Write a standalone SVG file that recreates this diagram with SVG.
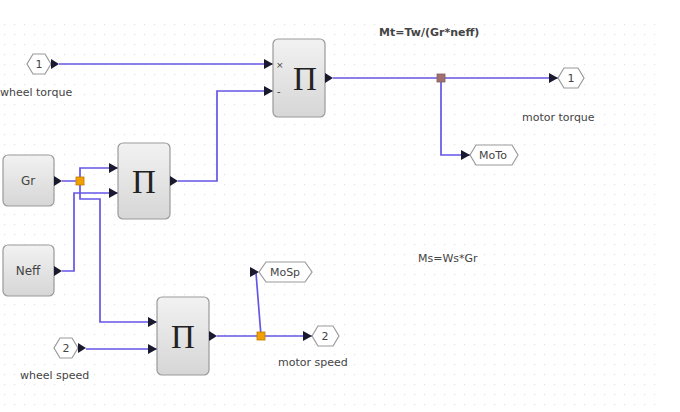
<svg xmlns="http://www.w3.org/2000/svg" width="680" height="412" viewBox="0 0 680 412">
<defs>
<pattern id="grid" x="0" y="0" width="10" height="10" patternUnits="userSpaceOnUse">
<rect x="4" y="4" width="1.2" height="1.2" fill="#e2e2e2"/>
</pattern>
<linearGradient id="blk" x1="0" y1="0" x2="0" y2="1">
<stop offset="0" stop-color="#f2f2f2"/>
<stop offset="1" stop-color="#d6d6d6"/>
</linearGradient>
<marker id="ar" viewBox="0 0 10 10" refX="10" refY="5" markerWidth="9" markerHeight="10" markerUnits="userSpaceOnUse" orient="auto" preserveAspectRatio="none">
<path d="M0,0 L10,5 L0,10 z" fill="#1a1a2e"/>
</marker>
</defs>
<style>
.blk{fill:url(#blk);stroke:#9a9a9a;stroke-width:1.2}
.hex{fill:#ffffff;stroke:#9a9a9a;stroke-width:1.2}
.w{fill:none;stroke:#6455e6;stroke-width:1.7}
.t{font-family:"DejaVu Sans","Liberation Sans",Arial,sans-serif;fill:#444444}
.pi{font-family:"Liberation Serif","Times New Roman",serif;fill:#222;font-size:33px;text-anchor:middle}
.pt{fill:#1a1a2e}
</style>
<rect width="680" height="412" fill="#ffffff"/>
<rect x="0" y="15" width="655" height="397" fill="url(#grid)"/>

<g id="connectors">
<path class="w" d="M59,64 H273" marker-end="url(#ar)"/>
<path class="w" d="M178,181 H217 V91 H273" marker-end="url(#ar)"/>
<path class="w" d="M333,78 H558" marker-end="url(#ar)"/>
<path class="w" d="M441,78 V155 H470" marker-end="url(#ar)"/>
<path class="w" d="M62,181 H80 V168 H118" marker-end="url(#ar)"/>
<path class="w" d="M62,271 H74 V193 H118" marker-end="url(#ar)"/>
<path class="w" d="M80,181 V199 H100 V322 H157" marker-end="url(#ar)"/>
<path class="w" d="M86,349 H157" marker-end="url(#ar)"/>
<path class="w" d="M217,336 H312" marker-end="url(#ar)"/>
<path class="w" d="M261,336 L256,273"/>
<path class="pt" d="M250,267 L259,272 L250,277 z"/>
<rect x="76" y="177" width="8" height="8" fill="#f0a000" stroke="#c07800" stroke-width="0.8"/>
<rect x="437" y="74" width="8" height="8" fill="#a07070" stroke="#806060" stroke-width="0.8"/>
<rect x="257" y="332" width="8" height="8" fill="#f0a000" stroke="#c07800" stroke-width="0.8"/>
</g>

<g id="in1">
<polygon class="hex" points="27,64 33,54 45,54 51,64 45,74 33,74"/>
<text class="t" x="39" y="68" font-size="11" text-anchor="middle">1</text>
<path class="pt" d="M51,59 L59,64 L51,69 z"/>
<text class="t" x="0" y="96" font-size="11">wheel torque</text>
</g>

<g id="prod1">
<rect class="blk" x="273" y="39" width="52" height="78" rx="5"/>
<text class="pi" x="305" y="90">Π</text>
<text class="t" x="276" y="68" font-size="9">×</text>
<text class="t" x="277" y="95" font-size="10">-</text>
<path class="pt" d="M325,73 L333,78 L325,83 z"/>
</g>

<g id="prod2">
<rect class="blk" x="118" y="143" width="52" height="76" rx="5"/>
<text class="pi" x="144" y="193">Π</text>
<path class="pt" d="M170,176 L178,181 L170,186 z"/>
</g>

<g id="gr">
<rect class="blk" x="3" y="155" width="51" height="51" rx="5"/>
<text class="t" x="28" y="185" font-size="12" text-anchor="middle">Gr</text>
<path class="pt" d="M54,176 L62,181 L54,186 z"/>
</g>

<g id="neff">
<rect class="blk" x="3" y="245" width="51" height="51" rx="5"/>
<text class="t" x="28" y="275" font-size="12" text-anchor="middle">Neff</text>
<path class="pt" d="M54,266 L62,271 L54,276 z"/>
</g>

<g id="prod3">
<rect class="blk" x="157" y="297" width="52" height="78" rx="5"/>
<text class="pi" x="183" y="348">Π</text>
<path class="pt" d="M209,331 L217,336 L209,341 z"/>
</g>

<g id="in2">
<polygon class="hex" points="54,348 60,338 72,338 78,348 72,358 60,358"/>
<text class="t" x="66" y="352" font-size="11" text-anchor="middle">2</text>
<path class="pt" d="M78,343 L86,348 L78,353 z"/>
<text class="t" x="20" y="379" font-size="11">wheel speed</text>
</g>

<g id="out1">
<polygon class="hex" points="558,78 564,68 578,68 584,78 578,88 564,88"/>
<text class="t" x="571" y="82" font-size="11" text-anchor="middle">1</text>
<text class="t" x="522" y="121" font-size="11">motor torque</text>
</g>

<g id="out2">
<polygon class="hex" points="312,336 318,326 333,326 339,336 333,346 318,346"/>
<text class="t" x="325" y="340" font-size="11" text-anchor="middle">2</text>
<text class="t" x="278" y="366" font-size="11">motor speed</text>
</g>

<g id="moto">
<polygon class="hex" points="470,155 476,145 512,145 518,155 512,165 476,165"/>
<text class="t" x="493" y="159" font-size="11" text-anchor="middle">MoTo</text>
</g>

<g id="mosp">
<polygon class="hex" points="259,272 266,262 305,262 312,272 305,282 266,282"/>
<text class="t" x="285" y="276" font-size="11" text-anchor="middle">MoSp</text>
</g>

<text class="t" x="379" y="36" font-size="11" font-weight="bold" fill="#333">Mt=Tw/(Gr*neff)</text>
<text class="t" x="418" y="262" font-size="11">Ms=Ws*Gr</text>
</svg>
